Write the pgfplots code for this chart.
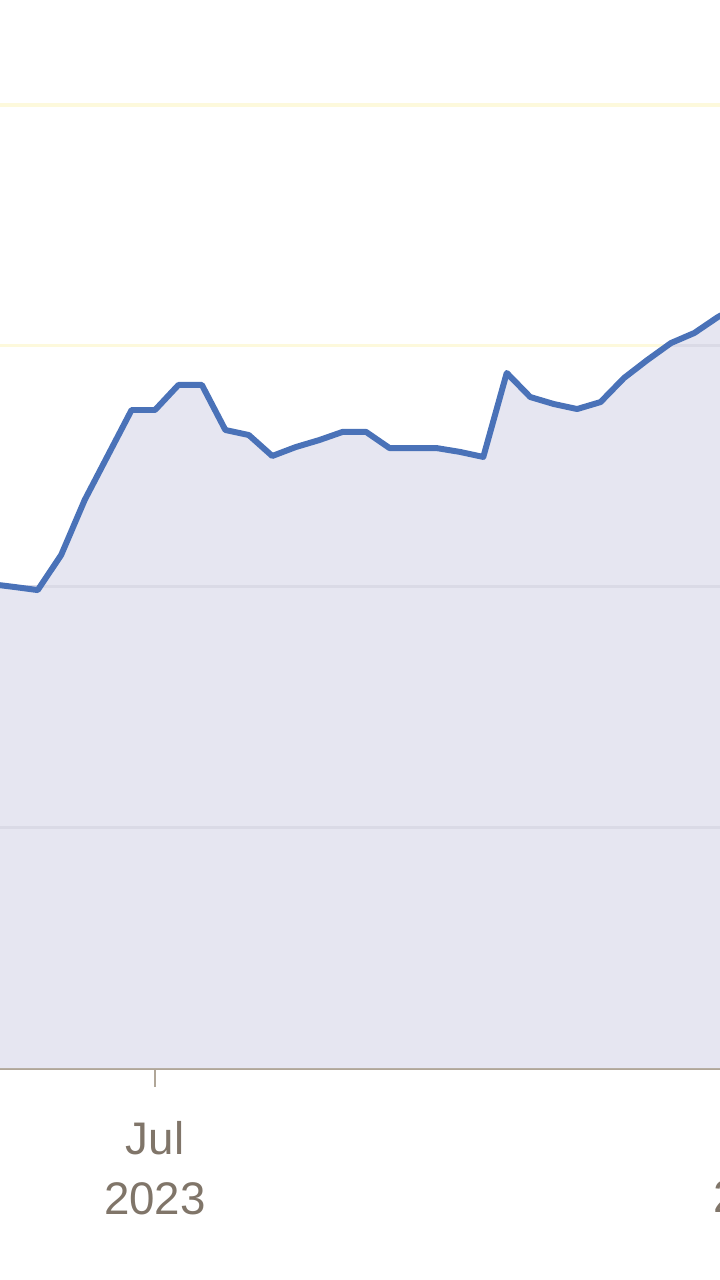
\documentclass[border=0pt]{standalone}
\usepackage{pgfplots}
\pgfplotsset{compat=1.18}
\usepackage{pgfplotstable}
\usepackage{fontspec}
\setmainfont{Liberation Sans}
\definecolor{lineblue}{RGB}{74,114,184}
\definecolor{areafill}{RGB}{230,230,241}
\definecolor{gridyel}{RGB}{253,249,220}
\definecolor{gridlav}{RGB}{218,218,230}
\definecolor{axisbrown}{RGB}{176,166,152}
\definecolor{labelbrown}{RGB}{128,117,105}
% weekly values, x = days from 1 Jul 2023
\pgfplotstableread{
d    v
-49  2.010
-42  1.998
-35  1.985
-28  2.131
-21  2.359
-14  2.546
-7   2.733
0    2.733
7    2.837
14   2.837
21   2.650
28   2.629
35   2.542
42   2.579
49   2.608
56   2.642
63   2.642
70   2.575
77   2.575
84   2.575
91   2.559
98   2.538
105  2.887
112  2.787
119  2.758
126  2.737
133  2.766
140  2.866
147  2.941
154  3.011
161  3.053
168  3.119
175  3.169
}\series
\begin{document}
\begin{tikzpicture}
\begin{scope}
\clip (0,-2.12) rectangle (7.2,10.68);
\begin{axis}[
  at={(0,0)}, anchor=south west,
  scale only axis, width=8.25cm, height=10.68cm,
  xmin=-46.27, xmax=200, ymin=0, ymax=4.436,
  axis x line*=bottom, axis y line*=left,
  x axis line style={draw=axisbrown, line width=1.1pt, -},
  y axis line style={draw=none},
  xtick={0,182}, xticklabels={Jul\\2023, Jan\\2024},
  xticklabel style={align=center, font=\fontsize{13}{17}\selectfont, text=labelbrown, yshift=-2.2mm},
  x tick style={draw=axisbrown, line width=0.6pt},
  tick align=outside, major tick length=1.9mm,
  ytick={1,2,3,4}, yticklabels={}, y tick style={draw=none},
  ymajorgrids, grid style={draw=gridyel, line width=0.9pt},
  clip=true,
]
\addplot[draw=none, fill=areafill] table[x=d, y=v] {\series} \closedcycle;
\addplot[gridlav, line width=0.8pt] coordinates {(-50,1) (200,1)};
\addplot[gridlav, line width=0.8pt] coordinates {(-50,2) (200,2)};
\addplot[gridlav, line width=0.8pt] coordinates {(153,3) (200,3)};
\addplot[lineblue, line width=1.7pt, line join=round] table[x=d, y=v] {\series};
\end{axis}
\end{scope}
\pgfresetboundingbox
\useasboundingbox (0,-2.12) rectangle (7.2,10.68);
\end{tikzpicture}
\end{document}
